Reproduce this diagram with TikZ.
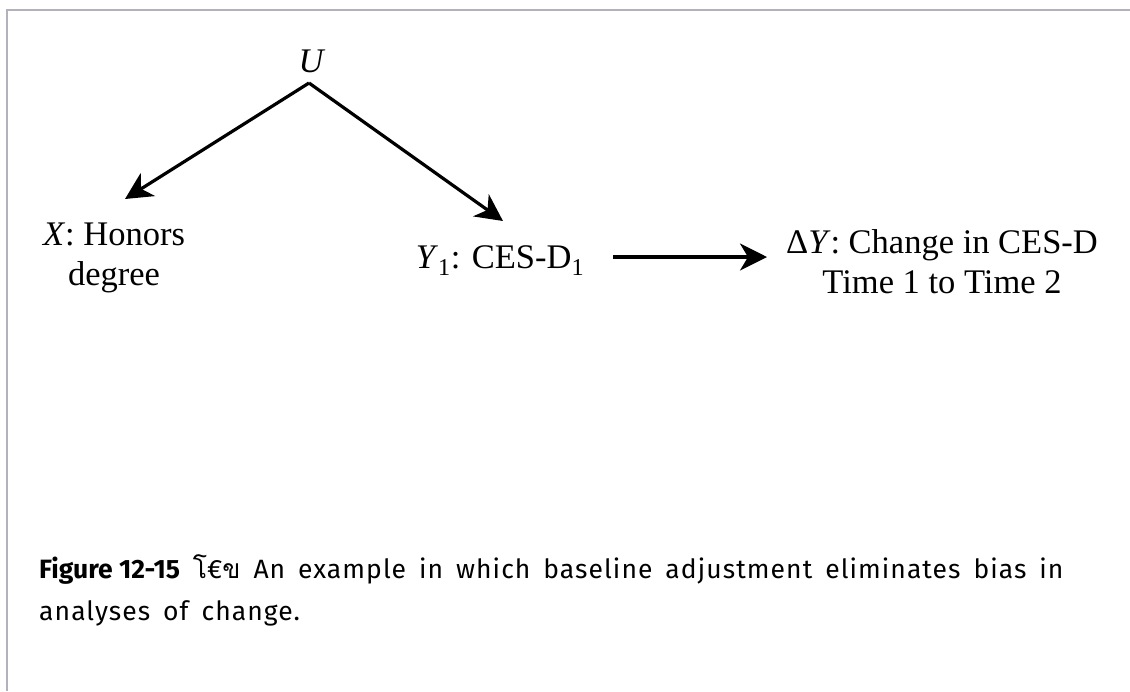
\documentclass[tikz,border=0pt]{standalone}
\usepackage{fontspec}
\setmainfont{Liberation Serif}
\newfontfamily\capfont[LetterSpace=4.0,WordSpace=1.6]{Fira Sans}
\newfontfamily\thaifont[Script=Thai]{Loma}
\usetikzlibrary{arrows.meta}
\definecolor{framegray}{RGB}{178,178,188}
\tikzset{
  lbl/.style={inner sep=0pt, font=\fontsize{34.5}{40}\selectfont},
  arr/.style={line width=3.2pt, -{Stealth[length=27pt, width=27pt, inset=8pt]}},
  captext/.style={inner sep=0pt, font=\capfont\fontsize{26.5}{40}\selectfont},
}
\begin{document}
\begin{tikzpicture}[x=1pt, y=-1pt]
\useasboundingbox (0,0) rectangle (1130,691);
\fill[white] (0,0) rectangle (1130,691);
\draw[framegray, line width=2pt] (6.5,691) -- (6.5,9.5) -- (1130,9.5);
% nodes
\node[lbl, anchor=base] (U) at (312,72) {\textit{U}};
\coordinate (apex) at (309,83);
\node[lbl, anchor=base] (X) at (114,245) {\textit{X}: Honors};
\node[lbl, anchor=base] (X2) at (114,285) {degree};
\node[lbl, anchor=base] (Y1) at (500,268) {\textit{Y}\textsubscript{1}: CES-D\textsubscript{1}};
\node[lbl, anchor=base] (DY) at (942,253) {Δ\textit{Y}: Change in CES-D};
\node[lbl, anchor=base] (DY2) at (942,293) {Time 1 to Time 2};
\coordinate (xtip) at (125,199);
\coordinate (ytip) at (503,221);
\coordinate (hstart) at (613,257);
\coordinate (htip) at (767,257);
% connectors
\draw[arr] (apex) -- (xtip);
\draw[arr] (apex) -- (ytip);
\draw[arr] (hstart) -- (htip);
% caption
\node[captext, anchor=base west] (cap1) at (39,578) {{\fontspec{Fira Sans}\bfseries Figure 12-15} {\thaifont โ}€{\thaifont ข} An example in which baseline adjustment eliminates bias in};
\node[captext, anchor=base west] (cap2) at (39,620) {analyses of change.};
\end{tikzpicture}
\end{document}
